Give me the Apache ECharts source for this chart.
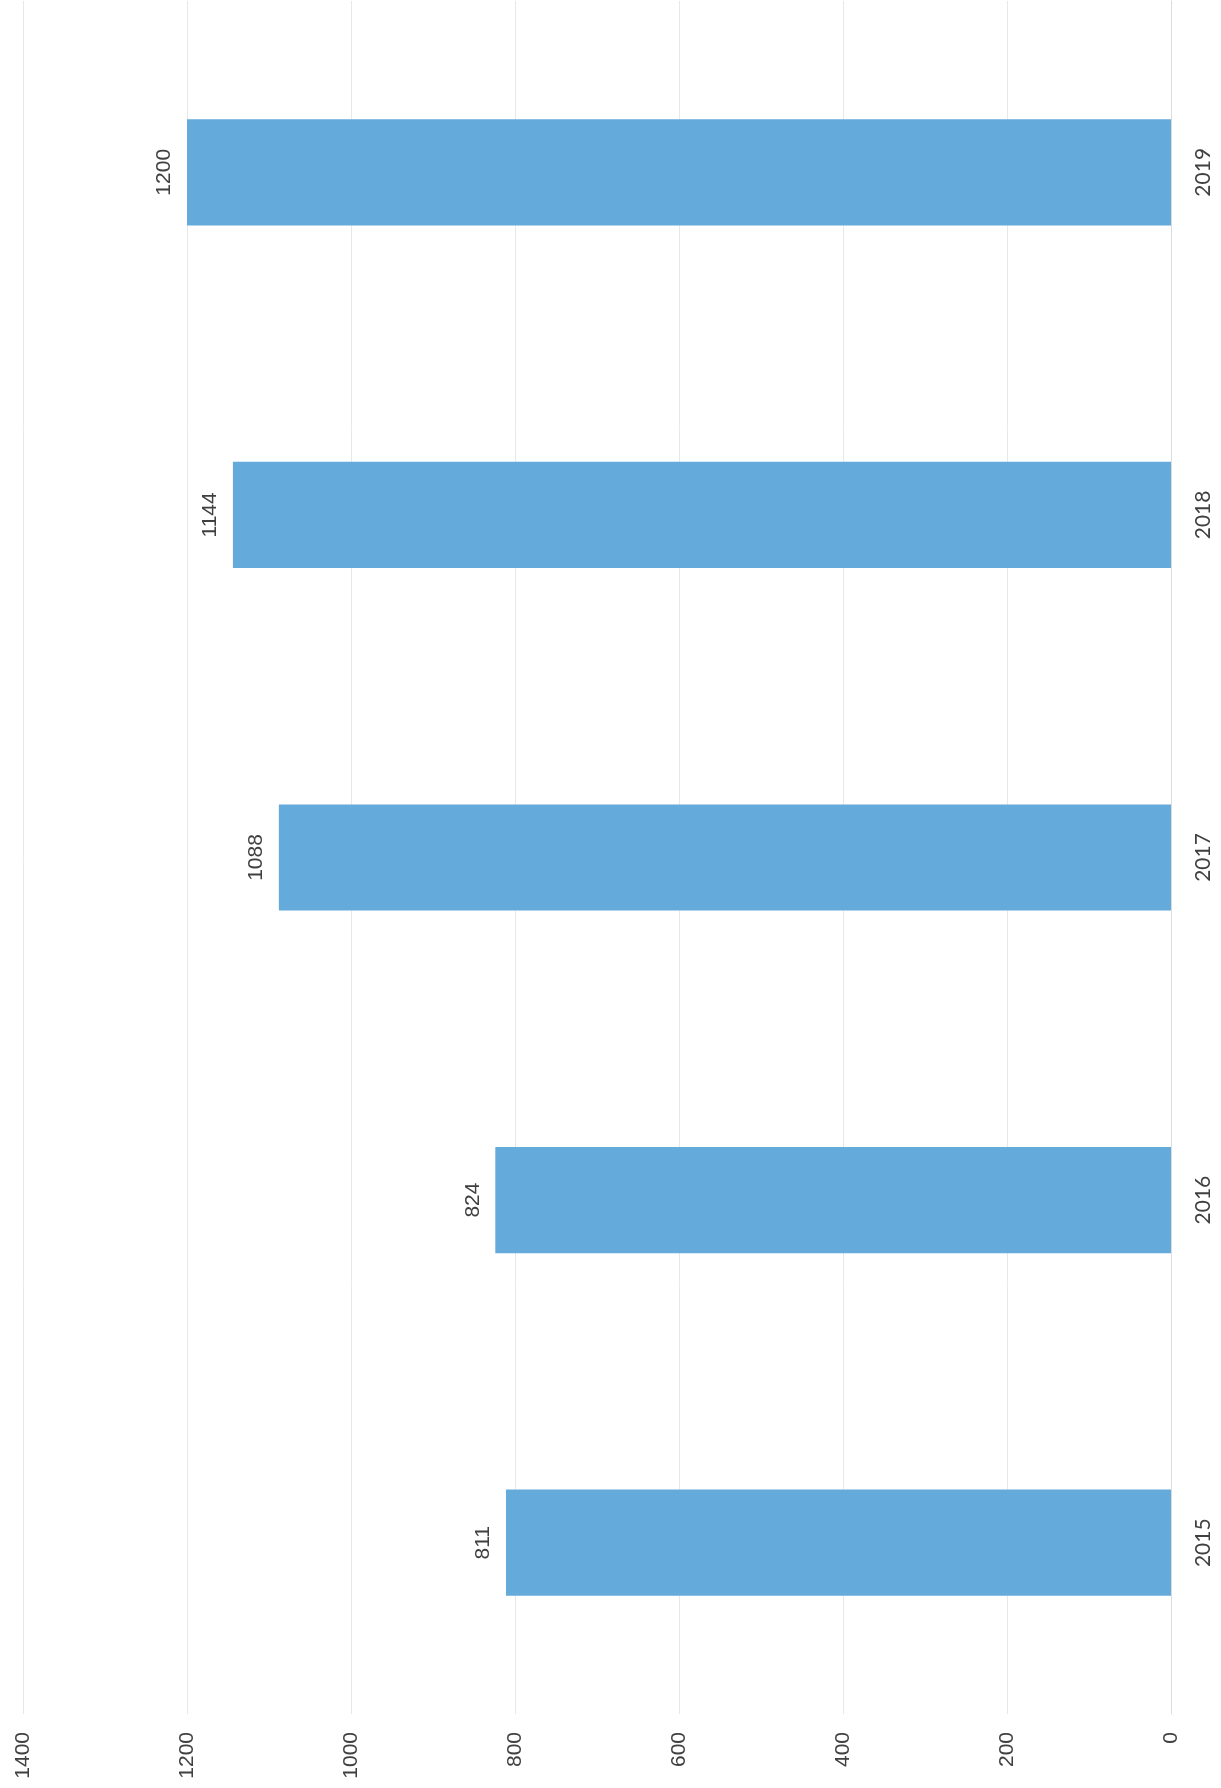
<!DOCTYPE html>
<html>
<head>
<meta charset="utf-8">
<script src="https://cdn.jsdelivr.net/npm/echarts@6/dist/echarts.min.js"></script>
<style>
html,body{margin:0;padding:0;background:#fff;}
#chart{width:1221px;height:1788px;}
</style>
</head>
<body>
<div id="chart"></div>
<script>
const categories = ['2015', '2016', '2017', '2018', '2019'];
const values = [811, 824, 1088, 1144, 1200];
const valueTicks = [0, 200, 400, 600, 800, 1000, 1200, 1400];

const chart = echarts.init(document.getElementById('chart'), null, {renderer: 'canvas'});
chart.setOption({
  backgroundColor: '#ffffff',
  animation: false,
  grid: {left: 23, right: 50, top: 1, bottom: 74, containLabel: false},
  xAxis: {
    type: 'value',
    inverse: true,
    position: 'bottom',
    min: valueTicks[0],
    max: valueTicks[valueTicks.length - 1],
    interval: valueTicks[1] - valueTicks[0],
    axisLine: {show: false},
    axisTick: {show: false},
    splitLine: {show: true, lineStyle: {color: '#e8e8e8', width: 1}},
    axisLabel: {
      rotate: 90,
      margin: 18,
      fontFamily: 'Liberation Sans',
      fontSize: 21,
      color: '#404040',
      formatter: function (v) { return String(v); }
    }
  },
  yAxis: {
    type: 'category',
    position: 'right',
    data: categories,
    axisLine: {show: true, onZero: false, lineStyle: {color: '#dcdcdc', width: 1}},
    axisTick: {show: false},
    splitLine: {show: false},
    axisLabel: {
      rotate: 90,
      margin: 22,
      fontFamily: 'Lato',
      fontSize: 21,
      color: '#404040'
    }
  },
  series: [{
    type: 'bar',
    data: values,
    barCategoryGap: '69%',
    itemStyle: {color: '#64aadb'},
    label: {
      show: true,
      position: 'left',
      distance: 12,
      rotate: 90,
      align: 'center',
      verticalAlign: 'bottom',
      fontFamily: 'Liberation Sans',
      fontSize: 21,
      color: '#404040'
    }
  }]
});
</script>
</body>
</html>
